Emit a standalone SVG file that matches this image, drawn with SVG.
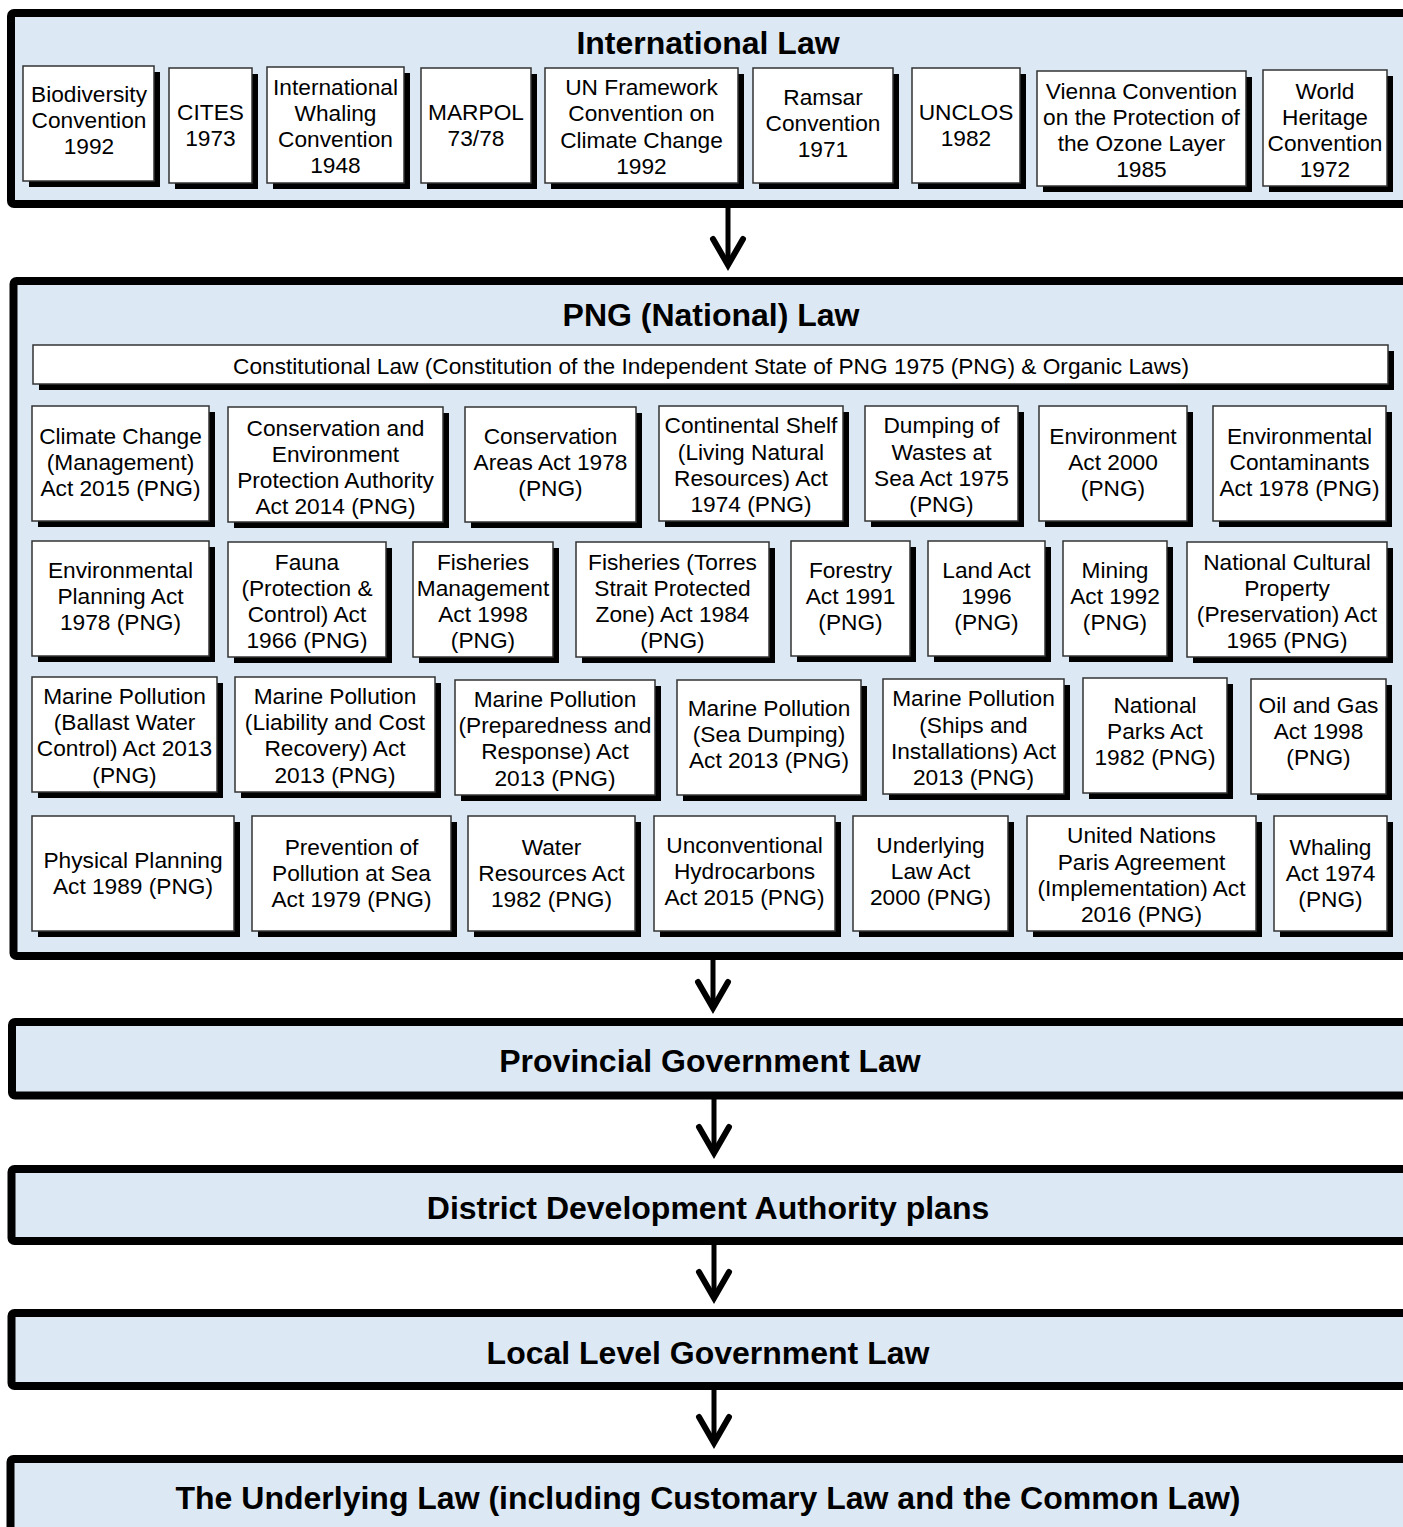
<svg xmlns="http://www.w3.org/2000/svg" width="1403" height="1527" viewBox="0 0 1403 1527">
<style>
.c{fill:#dde8f5;stroke:#000;stroke-width:8}
.s{fill:#000}
.b{fill:#fff;stroke:#333;stroke-width:1.5}
.t{font-family:"Liberation Sans",Arial,sans-serif;font-size:22.7px;text-anchor:middle;fill:#000}
.h{font-family:"Liberation Sans",Arial,sans-serif;font-size:32px;font-weight:bold;text-anchor:middle;fill:#000}
.k{stroke:#000;stroke-width:5;fill:none}
</style>
<defs>
<marker id="arr" markerUnits="userSpaceOnUse" markerWidth="40" markerHeight="44" viewBox="0 0 40 44" refX="20" refY="30" orient="0" overflow="visible">
<path d="M5,4 L20,30 L35,4" fill="none" stroke="#000" stroke-width="6" stroke-linecap="round" stroke-linejoin="miter" stroke-miterlimit="10"/>
</marker>
</defs>
<rect width="1403" height="1527" fill="#fff"/>

<g id="international-law">
<rect class="c" x="11" y="13" width="1410" height="191" rx="3"/>
<text class="h" x="708" y="53.5">International Law</text>
</g>
<g id="png-law">
<rect class="c" x="13.5" y="281" width="1410" height="675" rx="3"/>
<text class="h" x="711" y="325.5">PNG (National) Law</text>
</g>
<g id="provincial-law">
<rect class="c" x="12" y="1022" width="1410" height="73.5" rx="3"/>
<text class="h" x="710" y="1071.5">Provincial Government Law</text>
</g>
<g id="district-plans">
<rect class="c" x="11.5" y="1169" width="1410" height="72" rx="3"/>
<text class="h" x="708" y="1218.5">District Development Authority plans</text>
</g>
<g id="local-law">
<rect class="c" x="11.5" y="1313" width="1410" height="73" rx="3"/>
<text class="h" x="708" y="1363.5">Local Level Government Law</text>
</g>
<g id="underlying-law">
<rect class="c" x="10.5" y="1459" width="1410" height="120" rx="3"/>
<text class="h" x="708" y="1508.5">The Underlying Law (including Customary Law and the Common Law)</text>
</g>

<g id="biodiversity"><rect class="s" x="29" y="72" width="131" height="115"/><rect class="b" x="23" y="66" width="131" height="115"/><text class="t"><tspan x="89" y="102">Biodiversity</tspan><tspan x="89" y="128">Convention</tspan><tspan x="89" y="154">1992</tspan></text></g>
<g id="cites"><rect class="s" x="175" y="74" width="83" height="115"/><rect class="b" x="169" y="68" width="83" height="115"/><text class="t"><tspan x="210.5" y="120">CITES</tspan><tspan x="210.5" y="146">1973</tspan></text></g>
<g id="whaling-convention"><rect class="s" x="273" y="73" width="137" height="116"/><rect class="b" x="267" y="67" width="137" height="116"/><text class="t"><tspan x="335.5" y="95">International</tspan><tspan x="335.5" y="121">Whaling</tspan><tspan x="335.5" y="147">Convention</tspan><tspan x="335.5" y="173">1948</tspan></text></g>
<g id="marpol"><rect class="s" x="427" y="74" width="110" height="115"/><rect class="b" x="421" y="68" width="110" height="115"/><text class="t"><tspan x="476" y="120">MARPOL</tspan><tspan x="476" y="146">73/78</tspan></text></g>
<g id="unfccc"><rect class="s" x="551" y="74" width="193" height="115"/><rect class="b" x="545" y="68" width="193" height="115"/><text class="t"><tspan x="641.5" y="95">UN Framework</tspan><tspan x="641.5" y="121">Convention on</tspan><tspan x="641.5" y="148">Climate Change</tspan><tspan x="641.5" y="174">1992</tspan></text></g>
<g id="ramsar"><rect class="s" x="759" y="74" width="140" height="115"/><rect class="b" x="753" y="68" width="140" height="115"/><text class="t"><tspan x="823" y="105">Ramsar</tspan><tspan x="823" y="131">Convention</tspan><tspan x="823" y="157">1971</tspan></text></g>
<g id="unclos"><rect class="s" x="918" y="74" width="108" height="115"/><rect class="b" x="912" y="68" width="108" height="115"/><text class="t"><tspan x="966" y="120">UNCLOS</tspan><tspan x="966" y="146">1982</tspan></text></g>
<g id="vienna"><rect class="s" x="1043" y="77" width="209" height="115"/><rect class="b" x="1037" y="71" width="209" height="115"/><text class="t"><tspan x="1141.5" y="99">Vienna Convention</tspan><tspan x="1141.5" y="125">on the Protection of</tspan><tspan x="1141.5" y="151">the Ozone Layer</tspan><tspan x="1141.5" y="177">1985</tspan></text></g>
<g id="world-heritage"><rect class="s" x="1269" y="76" width="124" height="116"/><rect class="b" x="1263" y="70" width="124" height="116"/><text class="t"><tspan x="1325" y="99">World</tspan><tspan x="1325" y="125">Heritage</tspan><tspan x="1325" y="151">Convention</tspan><tspan x="1325" y="177">1972</tspan></text></g>

<g id="constitutional"><rect class="s" x="39" y="351" width="1355" height="39"/><rect class="b" x="33" y="345" width="1355" height="39"/><text class="t" x="711" y="374">Constitutional Law (Constitution of the Independent State of PNG 1975 (PNG) &amp; Organic Laws)</text></g>

<g id="climate-change"><rect class="s" x="38" y="412" width="177" height="115"/><rect class="b" x="32" y="406" width="177" height="115"/><text class="t"><tspan x="120.5" y="444">Climate Change</tspan><tspan x="120.5" y="470">(Management)</tspan><tspan x="120.5" y="496">Act 2015 (PNG)</tspan></text></g>
<g id="cepa"><rect class="s" x="234" y="413" width="215" height="115"/><rect class="b" x="228" y="407" width="215" height="115"/><text class="t"><tspan x="335.5" y="436">Conservation and</tspan><tspan x="335.5" y="462">Environment</tspan><tspan x="335.5" y="488">Protection Authority</tspan><tspan x="335.5" y="514">Act 2014 (PNG)</tspan></text></g>
<g id="conservation-areas"><rect class="s" x="471" y="413" width="171" height="115"/><rect class="b" x="465" y="407" width="171" height="115"/><text class="t"><tspan x="550.5" y="444">Conservation</tspan><tspan x="550.5" y="470">Areas Act 1978</tspan><tspan x="550.5" y="496">(PNG)</tspan></text></g>
<g id="continental-shelf"><rect class="s" x="665" y="412" width="184" height="115"/><rect class="b" x="659" y="406" width="184" height="115"/><text class="t"><tspan x="751" y="433">Continental Shelf</tspan><tspan x="751" y="460">(Living Natural</tspan><tspan x="751" y="486">Resources) Act</tspan><tspan x="751" y="512">1974 (PNG)</tspan></text></g>
<g id="dumping-wastes"><rect class="s" x="871" y="412" width="153" height="115"/><rect class="b" x="865" y="406" width="153" height="115"/><text class="t"><tspan x="941.5" y="433">Dumping of</tspan><tspan x="941.5" y="460">Wastes at</tspan><tspan x="941.5" y="486">Sea Act 1975</tspan><tspan x="941.5" y="512">(PNG)</tspan></text></g>
<g id="environment-act"><rect class="s" x="1045" y="412" width="148" height="115"/><rect class="b" x="1039" y="406" width="148" height="115"/><text class="t"><tspan x="1113" y="444">Environment</tspan><tspan x="1113" y="470">Act 2000</tspan><tspan x="1113" y="496">(PNG)</tspan></text></g>
<g id="env-contaminants"><rect class="s" x="1219" y="412" width="173" height="115"/><rect class="b" x="1213" y="406" width="173" height="115"/><text class="t"><tspan x="1299.5" y="444">Environmental</tspan><tspan x="1299.5" y="470">Contaminants</tspan><tspan x="1299.5" y="496">Act 1978 (PNG)</tspan></text></g>

<g id="env-planning"><rect class="s" x="38" y="547" width="177" height="115"/><rect class="b" x="32" y="541" width="177" height="115"/><text class="t"><tspan x="120.5" y="578">Environmental</tspan><tspan x="120.5" y="604">Planning Act</tspan><tspan x="120.5" y="630">1978 (PNG)</tspan></text></g>
<g id="fauna"><rect class="s" x="234" y="548" width="158" height="115"/><rect class="b" x="228" y="542" width="158" height="115"/><text class="t"><tspan x="307" y="570">Fauna</tspan><tspan x="307" y="596">(Protection &amp;</tspan><tspan x="307" y="622">Control) Act</tspan><tspan x="307" y="648">1966 (PNG)</tspan></text></g>
<g id="fisheries-mgmt"><rect class="s" x="419" y="548" width="140" height="115"/><rect class="b" x="413" y="542" width="140" height="115"/><text class="t"><tspan x="483" y="570">Fisheries</tspan><tspan x="483" y="596">Management</tspan><tspan x="483" y="622">Act 1998</tspan><tspan x="483" y="648">(PNG)</tspan></text></g>
<g id="fisheries-torres"><rect class="s" x="582" y="548" width="193" height="115"/><rect class="b" x="576" y="542" width="193" height="115"/><text class="t"><tspan x="672.5" y="570">Fisheries (Torres</tspan><tspan x="672.5" y="596">Strait Protected</tspan><tspan x="672.5" y="622">Zone) Act 1984</tspan><tspan x="672.5" y="648">(PNG)</tspan></text></g>
<g id="forestry"><rect class="s" x="797" y="547" width="119" height="115"/><rect class="b" x="791" y="541" width="119" height="115"/><text class="t"><tspan x="850.5" y="578">Forestry</tspan><tspan x="850.5" y="604">Act 1991</tspan><tspan x="850.5" y="630">(PNG)</tspan></text></g>
<g id="land-act"><rect class="s" x="934" y="547" width="117" height="115"/><rect class="b" x="928" y="541" width="117" height="115"/><text class="t"><tspan x="986.5" y="578">Land Act</tspan><tspan x="986.5" y="604">1996</tspan><tspan x="986.5" y="630">(PNG)</tspan></text></g>
<g id="mining"><rect class="s" x="1069" y="547" width="104" height="115"/><rect class="b" x="1063" y="541" width="104" height="115"/><text class="t"><tspan x="1115" y="578">Mining</tspan><tspan x="1115" y="604">Act 1992</tspan><tspan x="1115" y="630">(PNG)</tspan></text></g>
<g id="cultural-property"><rect class="s" x="1193" y="548" width="200" height="115"/><rect class="b" x="1187" y="542" width="200" height="115"/><text class="t"><tspan x="1287" y="570">National Cultural</tspan><tspan x="1287" y="596">Property</tspan><tspan x="1287" y="622">(Preservation) Act</tspan><tspan x="1287" y="648">1965 (PNG)</tspan></text></g>

<g id="mp-ballast"><rect class="s" x="38" y="683" width="185" height="115"/><rect class="b" x="32" y="677" width="185" height="115"/><text class="t"><tspan x="124.5" y="704">Marine Pollution</tspan><tspan x="124.5" y="730">(Ballast Water</tspan><tspan x="124.5" y="756">Control) Act 2013</tspan><tspan x="124.5" y="783">(PNG)</tspan></text></g>
<g id="mp-liability"><rect class="s" x="241" y="683" width="200" height="115"/><rect class="b" x="235" y="677" width="200" height="115"/><text class="t"><tspan x="335" y="704">Marine Pollution</tspan><tspan x="335" y="730">(Liability and Cost</tspan><tspan x="335" y="756">Recovery) Act</tspan><tspan x="335" y="783">2013 (PNG)</tspan></text></g>
<g id="mp-preparedness"><rect class="s" x="461" y="686" width="200" height="115"/><rect class="b" x="455" y="680" width="200" height="115"/><text class="t"><tspan x="555" y="707">Marine Pollution</tspan><tspan x="555" y="733">(Preparedness and</tspan><tspan x="555" y="759">Response) Act</tspan><tspan x="555" y="786">2013 (PNG)</tspan></text></g>
<g id="mp-sea-dumping"><rect class="s" x="683" y="686" width="184" height="115"/><rect class="b" x="677" y="680" width="184" height="115"/><text class="t"><tspan x="769" y="716">Marine Pollution</tspan><tspan x="769" y="742">(Sea Dumping)</tspan><tspan x="769" y="768">Act 2013 (PNG)</tspan></text></g>
<g id="mp-ships"><rect class="s" x="889" y="685" width="181" height="115"/><rect class="b" x="883" y="679" width="181" height="115"/><text class="t"><tspan x="973.5" y="706">Marine Pollution</tspan><tspan x="973.5" y="733">(Ships and</tspan><tspan x="973.5" y="759">Installations) Act</tspan><tspan x="973.5" y="785">2013 (PNG)</tspan></text></g>
<g id="national-parks"><rect class="s" x="1089" y="684" width="144" height="115"/><rect class="b" x="1083" y="678" width="144" height="115"/><text class="t"><tspan x="1155" y="713">National</tspan><tspan x="1155" y="739">Parks Act</tspan><tspan x="1155" y="765">1982 (PNG)</tspan></text></g>
<g id="oil-gas"><rect class="s" x="1257" y="685" width="135" height="115"/><rect class="b" x="1251" y="679" width="135" height="115"/><text class="t"><tspan x="1318.5" y="713">Oil and Gas</tspan><tspan x="1318.5" y="739">Act 1998</tspan><tspan x="1318.5" y="765">(PNG)</tspan></text></g>

<g id="physical-planning"><rect class="s" x="38" y="822" width="202" height="115"/><rect class="b" x="32" y="816" width="202" height="115"/><text class="t"><tspan x="133" y="868">Physical Planning</tspan><tspan x="133" y="894">Act 1989 (PNG)</tspan></text></g>
<g id="pollution-at-sea"><rect class="s" x="258" y="822" width="199" height="115"/><rect class="b" x="252" y="816" width="199" height="115"/><text class="t"><tspan x="351.5" y="855">Prevention of</tspan><tspan x="351.5" y="881">Pollution at Sea</tspan><tspan x="351.5" y="907">Act 1979 (PNG)</tspan></text></g>
<g id="water-resources"><rect class="s" x="474" y="822" width="167" height="115"/><rect class="b" x="468" y="816" width="167" height="115"/><text class="t"><tspan x="551.5" y="855">Water</tspan><tspan x="551.5" y="881">Resources Act</tspan><tspan x="551.5" y="907">1982 (PNG)</tspan></text></g>
<g id="unconventional"><rect class="s" x="660" y="822" width="181" height="115"/><rect class="b" x="654" y="816" width="181" height="115"/><text class="t"><tspan x="744.5" y="853">Unconventional</tspan><tspan x="744.5" y="879">Hydrocarbons</tspan><tspan x="744.5" y="905">Act 2015 (PNG)</tspan></text></g>
<g id="underlying-law-act"><rect class="s" x="859" y="822" width="155" height="115"/><rect class="b" x="853" y="816" width="155" height="115"/><text class="t"><tspan x="930.5" y="853">Underlying</tspan><tspan x="930.5" y="879">Law Act</tspan><tspan x="930.5" y="905">2000 (PNG)</tspan></text></g>
<g id="paris-agreement"><rect class="s" x="1033" y="822" width="229" height="115"/><rect class="b" x="1027" y="816" width="229" height="115"/><text class="t"><tspan x="1141.5" y="843">United Nations</tspan><tspan x="1141.5" y="870">Paris Agreement</tspan><tspan x="1141.5" y="896">(Implementation) Act</tspan><tspan x="1141.5" y="922">2016 (PNG)</tspan></text></g>
<g id="whaling-act"><rect class="s" x="1280" y="822" width="113" height="115"/><rect class="b" x="1274" y="816" width="113" height="115"/><text class="t"><tspan x="1330.5" y="855">Whaling</tspan><tspan x="1330.5" y="881">Act 1974</tspan><tspan x="1330.5" y="907">(PNG)</tspan></text></g>

<g id="connectors">
<line class="k" x1="728" y1="208" x2="728" y2="265" marker-end="url(#arr)"/>
<line class="k" x1="713" y1="960" x2="713" y2="1008" marker-end="url(#arr)"/>
<line class="k" x1="714" y1="1099" x2="714" y2="1153" marker-end="url(#arr)"/>
<line class="k" x1="714" y1="1245" x2="714" y2="1298" marker-end="url(#arr)"/>
<line class="k" x1="714" y1="1390" x2="714" y2="1443" marker-end="url(#arr)"/>
</g>
</svg>
